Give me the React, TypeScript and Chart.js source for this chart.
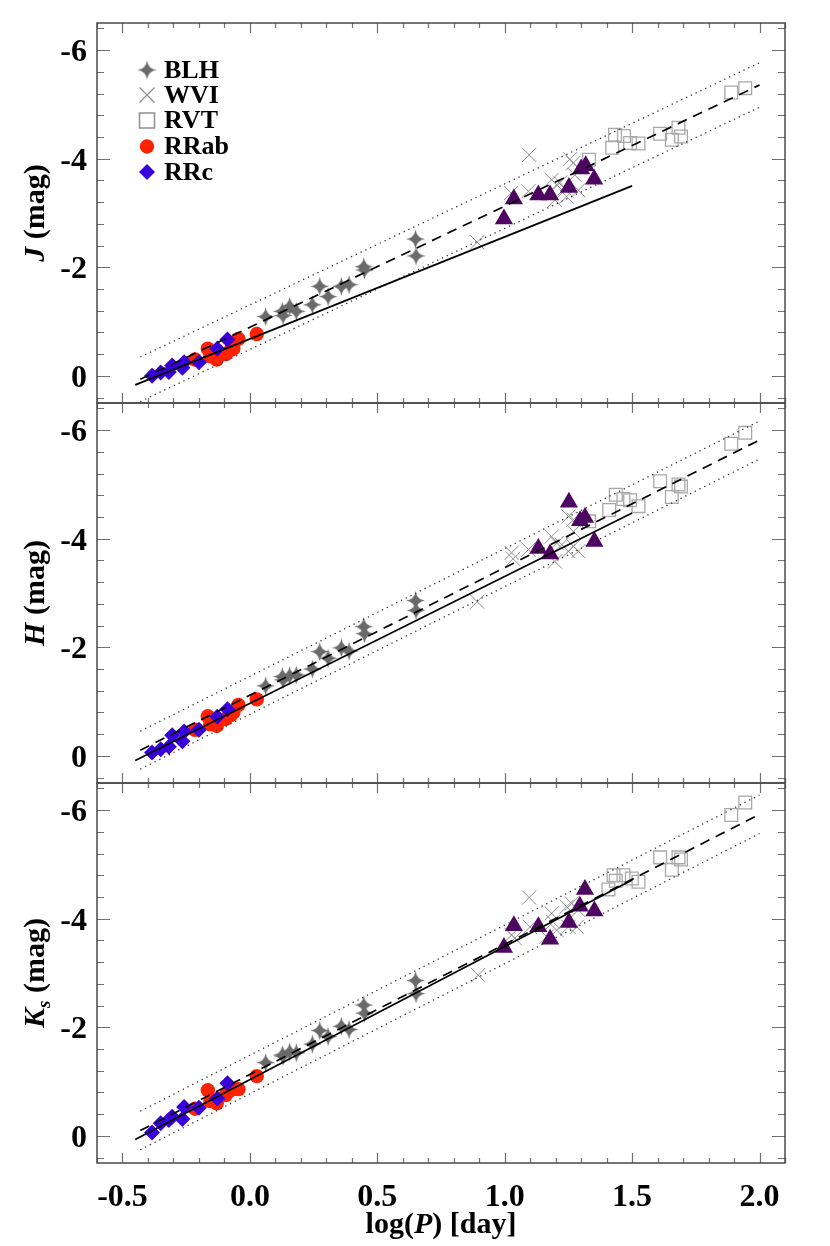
import React, { useEffect, useRef } from 'react';
import { Chart, registerables } from 'chart.js';
Chart.register(...registerables);

// ---------------- DATA ----------------
// RR Lyrae, first overtone (RRc)
const RRC_LOGP = [-0.384, -0.350, -0.318, -0.305, -0.265, -0.258, -0.200, -0.128, -0.088];
const RRC_J = [0.00, -0.06, -0.07, -0.19, -0.15, -0.25, -0.25, -0.50, -0.67];
const RRC_H = [-0.06, -0.12, -0.17, -0.38, -0.27, -0.45, -0.48, -0.72, -0.86];
const RRC_K = [-0.06, -0.23, -0.29, -0.35, -0.31, -0.53, -0.52, -0.69, -0.97];

// RR Lyrae, fundamental (RRab)
const RRAB_LOGP = [-0.215, -0.165, -0.155, -0.130, -0.095, -0.075, -0.065, -0.045, 0.027];
const RRAB_J = [-0.30, -0.50, -0.36, -0.30, -0.40, -0.48, -0.50, -0.68, -0.77];
const RRAB_H = [-0.48, -0.73, -0.58, -0.55, -0.68, -0.75, -0.80, -0.94, -1.04];
const RRAB_K = [-0.50, -0.84, -0.64, -0.60, -0.75, -0.84, -0.86, -0.86, -1.10];

// BL Her
const BLH_LOGP = [0.062, 0.127, 0.130, 0.156, 0.182, 0.245, 0.274, 0.307, 0.359, 0.389, 0.447, 0.450, 0.650, 0.652];
const BLH_J = [-1.09, -1.19, -1.11, -1.28, -1.19, -1.31, -1.65, -1.46, -1.65, -1.68, -2.01, -1.95, -2.52, -2.21];
const BLH_H = [-1.29, -1.46, -1.40, -1.48, -1.49, -1.60, -1.92, -1.80, -1.99, -1.93, -2.38, -2.25, -2.86, -2.68];
const BLH_K = [-1.35, -1.49, -1.47, -1.55, -1.53, -1.69, -1.94, -1.83, -2.02, -1.96, -2.41, -2.26, -2.86, -2.62];

// W Vir
const WVI_J_LOGP = [0.892, 1.025, 1.093, 1.096, 1.184, 1.197, 1.204, 1.217, 1.243, 1.256, 1.269, 1.289, 1.235, 1.275];
const WVI_J = [-2.46, -3.37, -3.40, -4.07, -3.61, -3.24, -3.52, -3.56, -3.30, -3.99, -3.92, -3.42, -3.45, -3.70];
const WVI_H_LOGP = [0.892, 1.027, 1.033, 1.093, 1.184, 1.197, 1.204, 1.224, 1.250, 1.270, 1.250, 1.270, 1.289, 1.270];
const WVI_H = [-2.84, -3.74, -3.63, -3.80, -4.04, -3.58, -3.92, -3.89, -4.41, -4.35, -3.77, -3.86, -3.77, -4.13];
const WVI_K_LOGP = [0.896, 1.096, 1.027, 1.040, 1.099, 1.165, 1.184, 1.190, 1.204, 1.243, 1.263, 1.250, 1.283, 1.289];
const WVI_K = [-2.96, -4.39, -3.70, -3.64, -3.85, -3.67, -4.10, -3.94, -3.79, -4.22, -4.28, -3.85, -3.85, -4.16];

// Peculiar W Vir (triangles, no legend entry)
const TRI_J_LOGP = [0.997, 1.036, 1.132, 1.178, 1.252, 1.300, 1.318, 1.351];
const TRI_J = [-2.89, -3.26, -3.33, -3.33, -3.47, -3.81, -3.87, -3.62];
const TRI_H_LOGP = [1.132, 1.178, 1.252, 1.296, 1.315, 1.352];
const TRI_H = [-3.82, -3.72, -4.67, -4.33, -4.39, -3.95];
const TRI_K_LOGP = [0.997, 1.036, 1.132, 1.178, 1.252, 1.295, 1.315, 1.352];
const TRI_K = [-3.47, -3.87, -3.85, -3.62, -3.93, -4.23, -4.54, -4.14];

// RV Tau
const RVT_J_LOGP = [1.331, 1.422, 1.433, 1.468, 1.492, 1.525, 1.610, 1.656, 1.682, 1.692, 1.889, 1.944];
const RVT_J = [-3.98, -4.20, -4.44, -4.42, -4.29, -4.28, -4.46, -4.35, -4.57, -4.41, -5.22, -5.30];
const RVT_H_LOGP = [1.331, 1.410, 1.436, 1.466, 1.492, 1.525, 1.610, 1.656, 1.682, 1.692, 1.889, 1.944];
const RVT_H = [-4.32, -4.53, -4.81, -4.73, -4.71, -4.60, -5.06, -4.77, -5.00, -4.96, -5.75, -5.95];
const RVT_K_LOGP = [1.407, 1.427, 1.436, 1.466, 1.499, 1.525, 1.610, 1.656, 1.682, 1.692, 1.889, 1.944];
const RVT_K = [-4.54, -4.80, -4.70, -4.80, -4.74, -4.68, -5.13, -4.90, -5.13, -5.09, -5.91, -6.14];

// PL relations (intercept, slope) per band J, H, Ks
const SOLID_A = [-0.680, -0.966, -1.037];
const SOLID_B = [-1.880, -2.339, -2.451];
const SOLID_RANGE = [-0.45, 1.5];
const DASH_A = [-0.896, -1.116, -1.130];
const DASH_B = [-2.231, -2.351, -2.397];
const DASH_RANGE = [-0.43, 2.0];
const DOT_WIDTH = [0.41, 0.35, 0.355];

// Axes
const X_MIN = -0.6, X_MAX = 2.1;
const Y_MIN = -6.5, Y_MAX = 0.5;
const X_MAJOR = [-0.5, 0.0, 0.5, 1.0, 1.5, 2.0];
const X_LABELS = ['-0.5', '0.0', '0.5', '1.0', '1.5', '2.0'];
const Y_MAJOR = [-6, -4, -2, 0];
const Y_LABELS = ['-6', '-4', '-2', '0'];
const LEGEND_LABELS = ['BLH', 'WVI', 'RVT', 'RRab', 'RRc'];

// ---------------- STYLE / LAYOUT ----------------
const W = 830, H = 1246;
const PLOT_L = 97, PLOT_R = 785;
const PANEL_TOP = [23, 403, 783];
const PANEL_H = 380;
const FONT = '"Liberation Serif", "Times New Roman", serif';
const C_BLH = '#6a6a6a';
const C_WVI = '#8e8e8e';
const C_RVT = '#a8a8a8';
const C_RRAB = '#ff2200';
const C_RRC = '#3a00dc';
const C_TRI = '#4e0562';

const pts = (xs: number[], ys: number[]) => xs.map((x, i) => ({ x, y: ys[i] }));

function makeStar(R: number, color: string) {
  const size = 2 * R + 2;
  const c = document.createElement('canvas');
  c.width = size; c.height = size;
  const g = c.getContext('2d')!;
  drawStarPath(g, size / 2, size / 2, R);
  g.fillStyle = color; g.fill();
  return c;
}
function drawStarPath(g: CanvasRenderingContext2D, cx: number, cy: number, R: number) {
  const k = 0.12 * R;
  g.beginPath();
  g.moveTo(cx, cy - R);
  g.quadraticCurveTo(cx + k, cy - k, cx + R, cy);
  g.quadraticCurveTo(cx + k, cy + k, cx, cy + R);
  g.quadraticCurveTo(cx - k, cy + k, cx - R, cy);
  g.quadraticCurveTo(cx - k, cy - k, cx, cy - R);
  g.closePath();
}

const PANELS = [
  {
    title: [{ t: 'J', f: `italic bold 30px ${FONT}`, dy: 0 }, { t: ' (mag)', f: `bold 30px ${FONT}`, dy: 0 }],
    rrc: RRC_J, rrab: RRAB_J, blh: BLH_J,
    wvi: pts(WVI_J_LOGP, WVI_J), tri: pts(TRI_J_LOGP, TRI_J), rvt: pts(RVT_J_LOGP, RVT_J),
  },
  {
    title: [{ t: 'H', f: `italic bold 30px ${FONT}`, dy: 0 }, { t: ' (mag)', f: `bold 30px ${FONT}`, dy: 0 }],
    rrc: RRC_H, rrab: RRAB_H, blh: BLH_H,
    wvi: pts(WVI_H_LOGP, WVI_H), tri: pts(TRI_H_LOGP, TRI_H), rvt: pts(RVT_H_LOGP, RVT_H),
  },
  {
    title: [
      { t: 'K', f: `italic bold 30px ${FONT}`, dy: 0 },
      { t: 's', f: `italic bold 19px ${FONT}`, dy: 6 },
      { t: ' (mag)', f: `bold 30px ${FONT}`, dy: 0 },
    ],
    rrc: RRC_K, rrab: RRAB_K, blh: BLH_K,
    wvi: pts(WVI_K_LOGP, WVI_K), tri: pts(TRI_K_LOGP, TRI_K), rvt: pts(RVT_K_LOGP, RVT_K),
  },
];

function lineData(a: number, b: number, range: number[], off: number) {
  return range.map((x) => ({ x, y: a + b * x + off }));
}

function drawLegend(ctx: CanvasRenderingContext2D, star: HTMLCanvasElement) {
  const sx = 147, tx = 164;
  const centers = [70, 95, 120.5, 146.5, 172];
  ctx.save();
  ctx.font = `bold 26px ${FONT}`;
  ctx.fillStyle = '#000';
  ctx.textAlign = 'left';
  ctx.textBaseline = 'alphabetic';
  LEGEND_LABELS.forEach((lab, i) => {
    const cy = centers[i];
    ctx.fillText(lab, tx, cy + 7.5);
    if (i === 0) {
      ctx.drawImage(star, sx - star.width / 2, cy - star.height / 2);
    } else if (i === 1) {
      ctx.strokeStyle = C_WVI; ctx.lineWidth = 1.2;
      ctx.beginPath();
      ctx.moveTo(sx - 7.5, cy - 7.5); ctx.lineTo(sx + 7.5, cy + 7.5);
      ctx.moveTo(sx + 7.5, cy - 7.5); ctx.lineTo(sx - 7.5, cy + 7.5);
      ctx.stroke();
    } else if (i === 2) {
      ctx.strokeStyle = '#909090'; ctx.lineWidth = 1.5;
      ctx.strokeRect(sx - 7.5, cy - 7.5, 15, 15);
    } else if (i === 3) {
      ctx.fillStyle = C_RRAB;
      ctx.beginPath(); ctx.arc(sx, cy, 7.2, 0, Math.PI * 2); ctx.fill();
      ctx.fillStyle = '#000';
    } else {
      ctx.fillStyle = C_RRC;
      ctx.beginPath();
      ctx.moveTo(sx, cy - 8); ctx.lineTo(sx + 8, cy); ctx.lineTo(sx, cy + 8); ctx.lineTo(sx - 8, cy);
      ctx.closePath(); ctx.fill();
      ctx.fillStyle = '#000';
    }
  });
  ctx.restore();
}

function PanelChart({ index }: { index: number }) {
  const ref = useRef<HTMLCanvasElement | null>(null);
  useEffect(() => {
    const p = PANELS[index];
    const star = makeStar(9.5, C_BLH);
    const top = PANEL_TOP[index];
    const decor = {
      id: 'decor' + index,
      afterDraw(chart: any) {
        const ctx: CanvasRenderingContext2D = chart.ctx;
        const { left, right, top: t, bottom } = chart.chartArea;
        const xs = chart.scales.x, ys = chart.scales.y;
        ctx.save();
        // ticks
        ctx.strokeStyle = '#707070';
        ctx.lineWidth = 1.2;
        ctx.beginPath();
        for (let i = -6; i <= 21; i++) {
          const v = i / 10;
          const px = Math.round(xs.getPixelForValue(v)) + 0.5;
          const major = i % 5 === 0;
          const len = major ? 10 : 5;
          ctx.moveTo(px, bottom); ctx.lineTo(px, bottom - len);
          ctx.moveTo(px, t); ctx.lineTo(px, t + len);
        }
        for (let i = -16; i <= 1; i++) {
          const v = i * 0.4;
          if (v < Y_MIN || v > Y_MAX) continue;
          const py = Math.round(ys.getPixelForValue(v)) + 0.5;
          const major = i % 5 === 0;
          const len = major ? 13 : 7;
          ctx.moveTo(left, py); ctx.lineTo(left + len, py);
          ctx.moveTo(right, py); ctx.lineTo(right - len, py);
        }
        ctx.stroke();
        // frame
        ctx.strokeStyle = '#4a4a4a';
        ctx.lineWidth = 1.5;
        ctx.strokeRect(left, t, right - left, bottom - t);
        // y tick labels
        ctx.fillStyle = '#000';
        ctx.font = `bold 32px ${FONT}`;
        ctx.textAlign = 'right';
        ctx.textBaseline = 'alphabetic';
        Y_MAJOR.forEach((v, i) => {
          ctx.fillText(Y_LABELS[i], left - 10, ys.getPixelForValue(v) + 11);
        });
        // y title
        const cy = (t + bottom) / 2;
        ctx.save();
        ctx.translate(44, cy);
        ctx.rotate(-Math.PI / 2);
        ctx.textAlign = 'left';
        let total = 0;
        p.title.forEach((s) => { ctx.font = s.f; total += ctx.measureText(s.t).width; });
        let u = -total / 2;
        p.title.forEach((s) => {
          ctx.font = s.f;
          ctx.fillText(s.t, u, s.dy);
          u += ctx.measureText(s.t).width;
        });
        ctx.restore();
        // x labels on the bottom panel
        if (index === 2) {
          ctx.font = `bold 32px ${FONT}`;
          ctx.textAlign = 'center';
          X_MAJOR.forEach((v, i) => {
            ctx.fillText(X_LABELS[i], xs.getPixelForValue(v), bottom + 43);
          });
          const parts = [
            { t: 'log(', f: `bold 30px ${FONT}` },
            { t: 'P', f: `italic bold 30px ${FONT}` },
            { t: ') [day]', f: `bold 30px ${FONT}` },
          ];
          ctx.textAlign = 'left';
          let tw = 0;
          parts.forEach((s) => { ctx.font = s.f; tw += ctx.measureText(s.t).width; });
          let xx = (left + right) / 2 - tw / 2;
          parts.forEach((s) => {
            ctx.font = s.f;
            ctx.fillText(s.t, xx, bottom + 70);
            xx += ctx.measureText(s.t).width;
          });
        }
        if (index === 0) drawLegend(ctx, star);
        ctx.restore();
      },
    };

    const lineBase = { showLine: true, pointRadius: 0, fill: false, tension: 0 };
    const datasets: any[] = [
      { ...lineBase, data: lineData(SOLID_A[index], SOLID_B[index], SOLID_RANGE, 0), borderColor: '#000', borderWidth: 1.7 },
      { ...lineBase, data: lineData(DASH_A[index], DASH_B[index], DASH_RANGE, 0), borderColor: '#000', borderWidth: 1.7, borderDash: [10, 7] },
      { ...lineBase, data: lineData(DASH_A[index], DASH_B[index], DASH_RANGE, -DOT_WIDTH[index]), borderColor: '#333', borderWidth: 1.3, borderDash: [1.3, 4] },
      { ...lineBase, data: lineData(DASH_A[index], DASH_B[index], DASH_RANGE, DOT_WIDTH[index]), borderColor: '#333', borderWidth: 1.3, borderDash: [1.3, 4] },
      { data: p.tri, pointStyle: 'triangle', pointRadius: 10.5, backgroundColor: C_TRI, borderColor: C_TRI, borderWidth: 0 },
      { data: pts(RRC_LOGP, p.rrc), pointStyle: 'rectRot', pointRadius: 8, backgroundColor: C_RRC, borderColor: C_RRC, borderWidth: 0 },
      { data: pts(RRAB_LOGP, p.rrab), pointStyle: 'circle', pointRadius: 7.2, backgroundColor: C_RRAB, borderColor: C_RRAB, borderWidth: 0 },
      { data: pts(BLH_LOGP, p.blh), pointStyle: star, pointRadius: 9, backgroundColor: C_BLH, borderWidth: 0 },
      { data: p.wvi, pointStyle: 'crossRot', pointRadius: 10, borderColor: C_WVI, backgroundColor: C_WVI, borderWidth: 1 },
      { data: p.rvt, pointStyle: 'rect', pointRadius: 9, borderColor: C_RVT, backgroundColor: 'rgba(0,0,0,0)', borderWidth: 1.3 },
    ];

    const chart = new Chart(ref.current!, {
      type: 'scatter',
      data: { datasets },
      options: {
        responsive: false,
        animation: false,
        devicePixelRatio: 1,
        events: [],
        layout: { padding: { left: PLOT_L, right: W - PLOT_R, top, bottom: H - (top + PANEL_H) } },
        plugins: { legend: { display: false }, tooltip: { enabled: false }, title: { display: false } },
        scales: {
          x: { type: 'linear', min: X_MIN, max: X_MAX, display: false },
          y: { type: 'linear', min: Y_MIN, max: Y_MAX, reverse: true, display: false },
        },
      } as any,
      plugins: [decor],
    });
    return () => chart.destroy();
  }, [index]);
  return (
    <canvas
      ref={ref}
      width={W}
      height={H}
      style={{ position: 'absolute', left: 0, top: 0, width: W, height: H }}
    />
  );
}

export default function App() {
  return (
    <div style={{ position: 'fixed', left: 0, top: 0, width: W, height: H, background: '#fff' }}>
      {[0, 1, 2].map((i) => (
        <PanelChart key={i} index={i} />
      ))}
    </div>
  );
}
